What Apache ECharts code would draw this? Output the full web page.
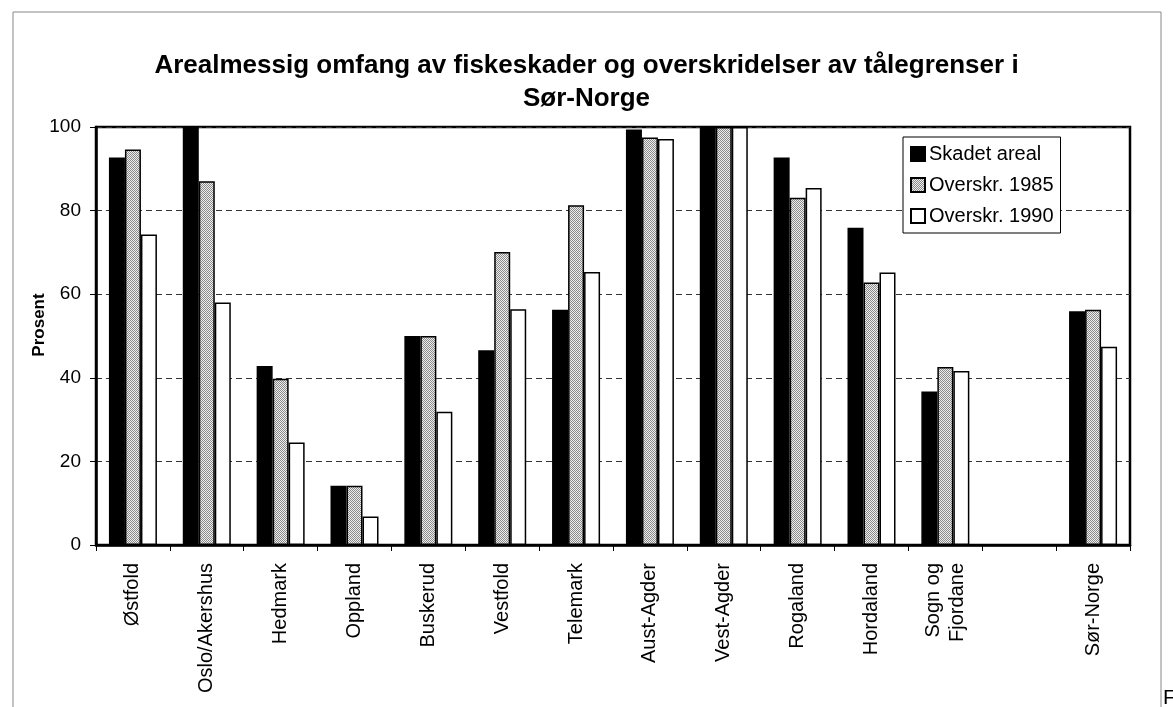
<!DOCTYPE html>
<html>
<head>
<meta charset="utf-8">
<script src="https://cdn.jsdelivr.net/npm/echarts@6/dist/echarts.min.js"></script>
<style>html,body{margin:0;padding:0;background:#fff;}#c{width:1173px;height:707px;}</style>
</head>
<body>
<div id="c"></div>
<script>
var categories = ['Østfold','Oslo/Akershus','Hedmark','Oppland','Buskerud','Vestfold','Telemark','Aust-Agder','Vest-Agder','Rogaland','Hordaland','Sogn og\nFjordane','','Sør-Norge'];
var seriesNames = ['Skadet areal','Overskr. 1985','Overskr. 1990'];
var skadet = [92.7, 100, 42.8, 14.2, 50.0, 46.6, 56.3, 99.4, 100, 92.7, 75.9, 36.7, null, 55.9];
var over1985 = [94.6, 87.0, 39.8, 14.2, 50.0, 70.1, 81.3, 97.5, 100, 83.1, 62.8, 42.6, null, 56.3];
var over1990 = [74.3, 58.0, 24.5, 6.8, 31.9, 56.4, 65.3, 97.1, 100, 85.4, 65.2, 41.6, null, 47.4];
var yTicks = [0, 20, 40, 60, 80, 100];

var pc = document.createElement('canvas');
pc.width = 2; pc.height = 2;
var pctx = pc.getContext('2d');
pctx.fillStyle = '#eeeeee'; pctx.fillRect(0,0,2,2);
pctx.fillStyle = '#8a8a8a'; pctx.fillRect(0,0,1,1); pctx.fillRect(1,1,1,1);
var grayPattern = {image: pc, repeat: 'repeat'};

var FONT = 'Liberation Sans, Arial, sans-serif';
var chart = echarts.init(document.getElementById('c'), null, {renderer: 'canvas'});
function barSeries(name, data, color) {
  return {
    name: name, type: 'bar', data: data, barWidth: 16, barGap: '0%',
    itemStyle: {color: color, borderColor: '#000', borderWidth: 1.5},
    animation: false
  };
}
chart.setOption({
  animation: false,
  title: {
    text: 'Arealmessig omfang av fiskeskader og overskridelser av tålegrenser i\nSør-Norge',
    left: 'center', top: 44,
    textStyle: {fontFamily: FONT, fontSize: 26, fontWeight: 'bold', color: '#000', lineHeight: 33}
  },
  legend: {
    orient: 'vertical', left: 903, top: 137,
    data: seriesNames,
    backgroundColor: '#fff', borderColor: '#000', borderWidth: 1,
    padding: [7, 7, 7, 7], itemGap: 11, itemWidth: 14, itemHeight: 14,
    icon: 'rect',
    textStyle: {fontFamily: FONT, fontSize: 20, color: '#000', padding: [0,0,0,-1]}
  },
  grid: {left: 96, right: 43, top: 127, bottom: 162, show: true, borderColor: '#000', borderWidth: 2.5, backgroundColor: 'transparent'},
  xAxis: {
    type: 'category', data: categories, boundaryGap: true,
    axisLine: {show: true, lineStyle: {color: '#000', width: 2.5}},
    axisTick: {show: true, interval: 0, length: 6, lineStyle: {color: '#000', width: 1}},
    axisLabel: {interval: 0, rotate: 90, margin: 18, fontFamily: FONT, fontSize: 20, color: '#000', lineHeight: 24},
    splitLine: {show: false}
  },
  yAxis: {
    type: 'value', min: 0, max: 100, interval: 20,
    axisLine: {show: true, lineStyle: {color: '#000', width: 2.5}},
    axisTick: {show: true, length: 6, lineStyle: {color: '#000', width: 1}},
    axisLabel: {fontFamily: FONT, fontSize: 19, color: '#000', margin: 15,
      formatter: function (v) { return yTicks.indexOf(v) >= 0 ? String(v) : ''; }},
    splitLine: {show: true, lineStyle: {color: '#333', width: 1, type: [6, 4]}}
  },
  series: [
    barSeries(seriesNames[0], skadet, '#000'),
    barSeries(seriesNames[1], over1985, grayPattern),
    barSeries(seriesNames[2], over1990, '#fff')
  ],
  graphic: [
    {type: 'rect', shape: {x: 13, y: 12, width: 1148, height: 720}, style: {fill: 'none', stroke: '#888', lineWidth: 1}, z: -1},
    {type: 'text', x: 39, y: 325, rotation: Math.PI / 2,
      style: {text: 'Prosent', fontFamily: FONT, fontSize: 17, fontWeight: 'bold', fill: '#000', align: 'center', verticalAlign: 'middle'}},
    {type: 'text', left: 1163, top: 688, style: {text: 'F', fontFamily: FONT, fontSize: 21, fill: '#000'}}
  ]
});
</script>
</body>
</html>
